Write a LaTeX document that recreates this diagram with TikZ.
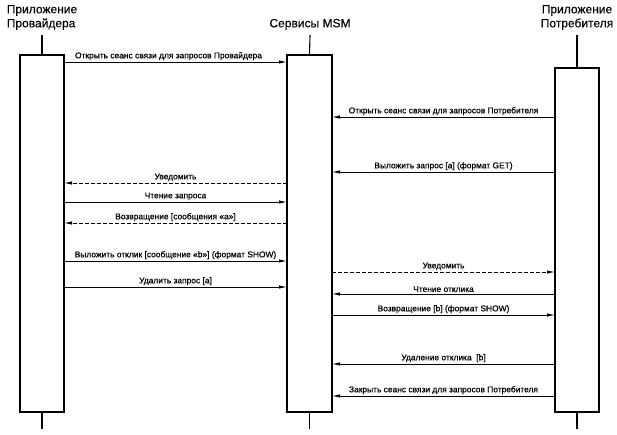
\documentclass[tikz,border=0pt]{standalone}
\usepackage{fontspec}
\setmainfont{Liberation Sans}
\newfontfamily\msgfont[FakeBold=0.6]{Liberation Sans}
\newfontfamily\actorfont[FakeBold=0.3]{Liberation Sans}
\usetikzlibrary{positioning,arrows.meta}

\begin{document}
\begin{tikzpicture}[
    x=1pt, y=-1pt,
    lifebox/.style={draw, line width=1.1pt, fill=white, inner sep=0pt, outer sep=0pt, minimum width=44pt, anchor=north west},
    lifeline/.style={line width=1.1pt},
    actor/.style={font=\actorfont\fontsize{12}{14}\selectfont, inner sep=1pt},
    msg/.style={-{Latex[length=8pt, width=3.4pt]}, line width=0.9pt},
    reply/.style={msg, dashed, dash pattern=on 4pt off 2pt},
    label/.style={font=\msgfont\fontsize{8.4}{10}\selectfont, above=0.5pt, inner sep=1pt}
]
\useasboundingbox (0,0) rectangle (617,434);
% Participants
\node[lifebox, minimum height=357pt] (prov) at (20,55) {};
\node[lifebox, minimum width=45pt, minimum height=357pt] (msm) at (287,55) {};
\node[lifebox, minimum height=344pt] (cons) at (555,68) {};
\node[actor, align=left, anchor=south] (provname) at (42,31) {Приложение\\Провайдера};
\node[actor, anchor=south] (msmname) at (310,31) {Сервисы MSM};
\node[actor, align=center, anchor=south] (consname) at (577,31) {Приложение\\Потребителя};
% Lifelines
\draw[lifeline] (provname.south |- 0,35) -- (prov.north);
\draw[lifeline] (prov.south) -- ++(0,17);
\draw[lifeline] (msmname.south |- 0,35) -- (msm.north);
\draw[lifeline] (msm.south) -- ++(0,17);
\draw[lifeline] (consname.south |- 0,35) -- (cons.north);
\draw[lifeline] (cons.south) -- ++(0,17);

% Messages
\draw[msg] (prov.east |- 0,62) -- node[label, xshift=-7pt]{Открыть сеанс связи для запросов Провайдера} (msm.west |- 0,62);
\draw[msg] (cons.west |- 0,117) -- node[label]{Открыть сеанс связи для запросов Потребителя} (msm.east |- 0,117);
\draw[msg] (cons.west |- 0,172) -- node[label]{Выложить запрос [a] (формат GET)} (msm.east |- 0,172);
\draw[reply] (msm.west |- 0,183) -- node[label]{Уведомить} (prov.east |- 0,183);
\draw[msg] (prov.east |- 0,202) -- node[label]{Чтение запроса} (msm.west |- 0,202);
\draw[reply] (msm.west |- 0,223) -- node[label]{Возвращение [сообщения «a»]} (prov.east |- 0,223);
\draw[msg] (prov.east |- 0,261) -- node[label]{Выложить отклик [сообщение «b»] (формат SHOW)} (msm.west |- 0,261);
\draw[msg] (prov.east |- 0,287) -- node[label]{Удалить запрос [a]} (msm.west |- 0,287);
\draw[reply] (msm.east |- 0,272) -- node[label]{Уведомить} (cons.west |- 0,272);
\draw[msg] (cons.west |- 0,294) -- node[label]{Чтение отклика} (msm.east |- 0,294);
\draw[msg] (msm.east |- 0,315) -- node[label]{Возвращение [b] (формат SHOW)} (cons.west |- 0,315);
\draw[msg] (cons.west |- 0,364) -- node[label]{Удаление отклика~~[b]} (msm.east |- 0,364);
\draw[msg] (cons.west |- 0,396) -- node[label]{Закрыть сеанс связи для запросов Потребителя} (msm.east |- 0,396);
\end{tikzpicture}
\end{document}
